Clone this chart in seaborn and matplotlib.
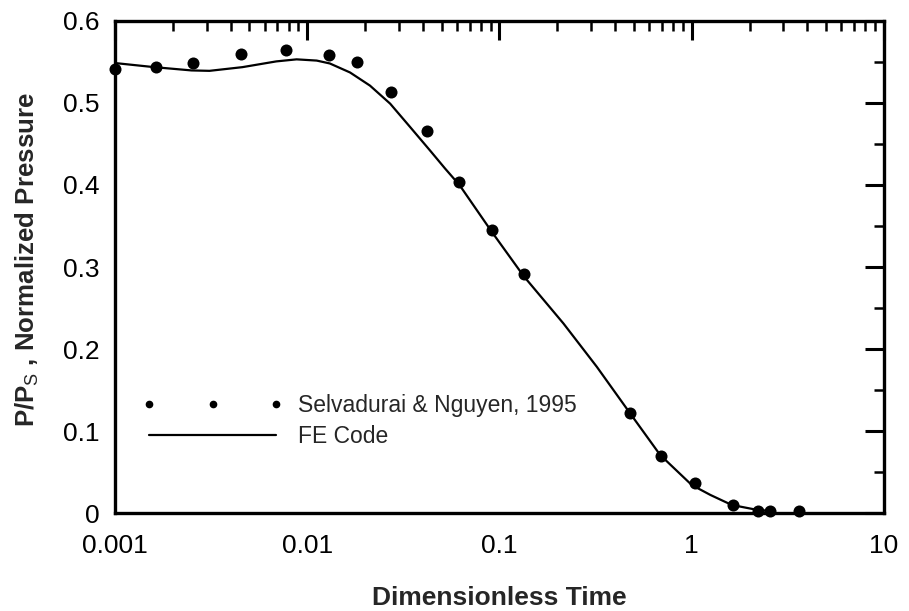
import matplotlib
matplotlib.use("Agg")
import matplotlib.pyplot as plt
import matplotlib.ticker as mticker
from matplotlib.lines import Line2D
import seaborn as sns
import pandas as pd

# Selvadurai & Nguyen, 1995 (points)
exp_time = [0.001, 0.00163, 0.00256, 0.00454, 0.00773, 0.0129, 0.0182, 0.0273,
            0.0419, 0.0618, 0.0918, 0.134, 0.478, 0.690, 1.04, 1.63, 2.22, 2.56, 3.63]
exp_pressure = [0.541, 0.5435, 0.549, 0.560, 0.565, 0.558, 0.5496, 0.5127,
                0.4656, 0.4036, 0.3456, 0.292, 0.1224, 0.0701, 0.0365, 0.0101,
                0.0032, 0.0032, 0.0032]

# FE Code (line)
fe_time = [0.001, 0.0016, 0.0025, 0.0031, 0.0046, 0.0069, 0.0088, 0.0112, 0.0131,
           0.0167, 0.0212, 0.027, 0.0343, 0.0435, 0.0521, 0.0621, 0.0913, 0.1335,
           0.2151, 0.3208, 0.478, 0.685, 1.0, 1.25, 1.615, 2.1, 2.7]
fe_pressure = [0.5485, 0.5435, 0.5395, 0.539, 0.5435, 0.5505, 0.553, 0.5515, 0.548,
               0.537, 0.521, 0.499, 0.4705, 0.442, 0.42, 0.3995, 0.3427, 0.289,
               0.2312, 0.1784, 0.1217, 0.071, 0.0344, 0.0223, 0.0101,
               0.0049, 0.002]

x_ticks = [0.001, 0.01, 0.1, 1, 10]
x_ticklabels = ["0.001", "0.01", "0.1", "1", "10"]
y_ticks = [0, 0.1, 0.2, 0.3, 0.4, 0.5, 0.6]
y_ticklabels = ["0", "0.1", "0.2", "0.3", "0.4", "0.5", "0.6"]

sns.set_theme(style="white")
plt.rcParams["font.family"] = ["Liberation Sans", "DejaVu Sans"]
plt.rcParams["mathtext.fontset"] = "custom"
plt.rcParams["mathtext.rm"] = "Liberation Sans"
plt.rcParams["mathtext.it"] = "Liberation Sans"
plt.rcParams["mathtext.bf"] = "Liberation Sans:bold"

exp_df = pd.DataFrame({"t": exp_time, "p": exp_pressure})
fe_df = pd.DataFrame({"t": fe_time, "p": fe_pressure})

fig = plt.figure(figsize=(9.09, 6.11), dpi=100)
ax = fig.add_axes([0.1265, 0.160, 0.846, 0.806])

sns.lineplot(data=fe_df, x="t", y="p", ax=ax, color="black", linewidth=1.6,
             sort=False, estimator=None, zorder=2)
sns.scatterplot(data=exp_df, x="t", y="p", ax=ax, color="black", s=75,
                edgecolor="black", linewidth=0, zorder=3, clip_on=False)

ax.set_xscale("log")
ax.set_xlim(0.001, 10)
ax.set_ylim(0, 0.6)
ax.set_xticks(x_ticks)
ax.set_xticklabels(x_ticklabels)
ax.xaxis.set_minor_locator(mticker.LogLocator(base=10, subs=range(2, 10), numticks=20))
ax.xaxis.set_minor_formatter(mticker.NullFormatter())
ax.set_yticks(y_ticks)
ax.set_yticklabels(y_ticklabels)
ax.yaxis.set_minor_locator(mticker.MultipleLocator(0.05))

for sp in ax.spines.values():
    sp.set_linewidth(2.4)
    sp.set_color("black")

ax.tick_params(axis="both", which="major", direction="in", length=14, width=2.2,
               top=True, right=True, color="black", labelsize=19, labelcolor="black")
ax.tick_params(axis="both", which="minor", direction="in", length=7.5, width=1.8,
               top=True, right=True, color="black")
ax.tick_params(axis="x", which="major", pad=15)
ax.tick_params(axis="y", which="major", pad=11)

ax.set_xlabel("Dimensionless Time", fontsize=19, fontweight="bold", labelpad=20)
ax.set_ylabel(r"P/P$_{\mathrm{S}}$ , Normalized Pressure", fontsize=18.6,
              fontweight="bold")
ax.yaxis.set_label_coords(-0.096, 0.516)

handles = [
    Line2D([], [], linestyle="none", marker="o", color="black", markersize=4.5),
    Line2D([], [], linestyle="-", color="black", linewidth=1.6),
]
ax.legend(handles, ["Selvadurai & Nguyen, 1995", "FE Code"], loc="upper left",
          bbox_to_anchor=(0.024, 0.26), frameon=False, fontsize=16.5,
          numpoints=3, handlelength=6.1, handletextpad=0.7, labelspacing=0.35,
          borderaxespad=0)

ax.grid(False)
fig.savefig("out.png", dpi=100, facecolor="white")
